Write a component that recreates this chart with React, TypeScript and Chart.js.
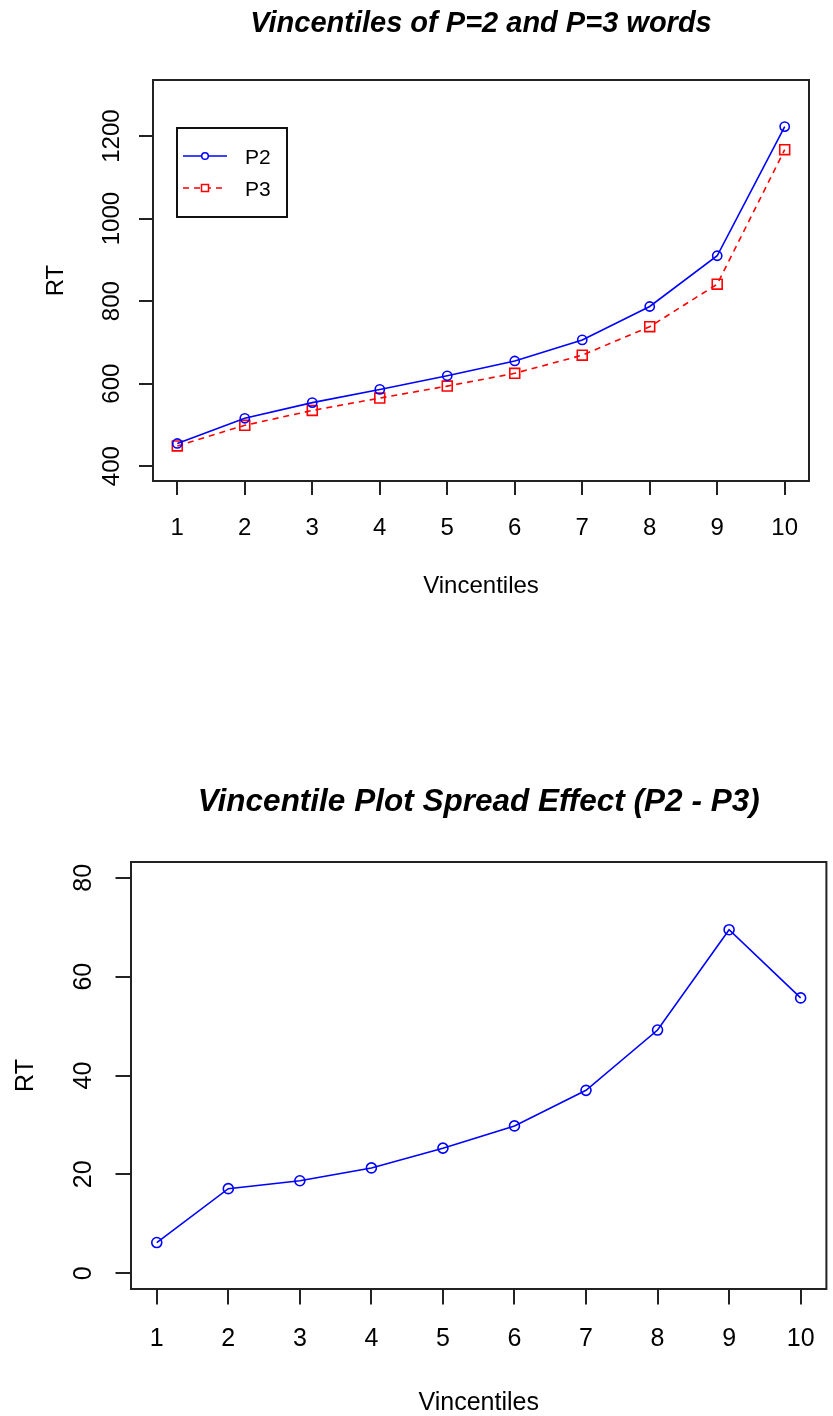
import React, { useEffect, useRef } from "react";
import { Chart, registerables } from "chart.js";

Chart.register(...registerables);

// ---- data ----
const vincentiles = [1, 2, 3, 4, 5, 6, 7, 8, 9, 10];
const p2RT = [455, 516, 554, 586, 619, 655, 706, 787, 910, 1223];
const p3RT = [449, 499, 535, 565, 594, 625, 669, 738, 841, 1167];
const spreadRT = [6.2, 17.1, 18.7, 21.3, 25.3, 29.8, 37.0, 49.2, 69.5, 55.7];
const topYTicks = [400, 600, 800, 1000, 1200];
const bottomYTicks = [0, 20, 40, 60, 80];
const xTicks = vincentiles;
const seriesNames = ["P2", "P3"];
const topTitle = "Vincentiles of P=2 and P=3 words";
const bottomTitle = "Vincentile Plot Spread Effect (P2 - P3)";
const xTitle = "Vincentiles";
const yTitle = "RT";

const FONT = '"Liberation Sans", Arial, sans-serif';
const BLUE = "#0000ff";
const RED = "#ff0000";

type Spec = {
  width: number;
  height: number;
  area: { left: number; top: number; right: number; bottom: number };
  xRange: [number, number];
  yRange: [number, number];
  yTicks: number[];
  tickLen: number;
  font: number;
  titleFont: number;
  title: string;
  titleBaseline: number;
  xLabelBaseline: number;
  xTitleBaseline: number;
  yLabelBaseline: number;
  yTitleBaseline: number;
  datasets: any[];
  legend: boolean;
};

function toPoints(values: number[]) {
  return vincentiles.map((v, i) => ({ x: v, y: values[i] }));
}

function drawLegend(ctx: CanvasRenderingContext2D) {
  ctx.save();
  ctx.strokeStyle = "#111";
  ctx.lineWidth = 2;
  ctx.strokeRect(177, 128, 110, 89);
  const rows = [
    { name: seriesNames[0], color: BLUE, dash: [] as number[], y: 156, shape: "circle" },
    { name: seriesNames[1], color: RED, dash: [6, 5], y: 188, shape: "rect" },
  ];
  rows.forEach((r) => {
    ctx.strokeStyle = r.color;
    ctx.lineWidth = 1.5;
    ctx.setLineDash(r.dash);
    ctx.beginPath();
    ctx.moveTo(183, r.y);
    ctx.lineTo(227, r.y);
    ctx.stroke();
    ctx.setLineDash([]);
    ctx.fillStyle = "#fff";
    ctx.beginPath();
    if (r.shape === "circle") {
      ctx.arc(205, r.y, 3.3, 0, Math.PI * 2);
    } else {
      ctx.rect(201.5, r.y - 3.5, 7, 7);
    }
    ctx.fill();
    ctx.stroke();
    ctx.fillStyle = "#000";
    ctx.font = `21px ${FONT}`;
    ctx.textAlign = "left";
    ctx.textBaseline = "alphabetic";
    ctx.fillText(r.name, 245, r.y + 7.5);
  });
  ctx.restore();
}

function makeConfig(spec: Spec): any {
  const { area } = spec;
  const textPlugin = {
    id: "rtext",
    afterDraw(chart: any) {
      const ctx: CanvasRenderingContext2D = chart.ctx;
      const { left, top, right, bottom } = chart.chartArea;
      const xs = chart.scales.x;
      const ys = chart.scales.y;
      ctx.save();
      ctx.setLineDash([]);
      ctx.strokeStyle = "#222";
      ctx.lineWidth = 2;
      ctx.strokeRect(left, top, right - left, bottom - top);
      ctx.fillStyle = "#000";
      ctx.textAlign = "center";
      ctx.textBaseline = "alphabetic";
      ctx.font = `italic bold ${spec.titleFont}px ${FONT}`;
      ctx.fillText(spec.title, (left + right) / 2, spec.titleBaseline);
      ctx.font = `${spec.font}px ${FONT}`;
      xTicks.forEach((v) => {
        ctx.fillText(String(v), xs.getPixelForValue(v), spec.xLabelBaseline);
      });
      ctx.fillText(xTitle, (left + right) / 2, spec.xTitleBaseline);
      spec.yTicks.forEach((v) => {
        ctx.save();
        ctx.translate(spec.yLabelBaseline, ys.getPixelForValue(v));
        ctx.rotate(-Math.PI / 2);
        ctx.fillText(String(v), 0, 0);
        ctx.restore();
      });
      ctx.save();
      ctx.translate(spec.yTitleBaseline, (top + bottom) / 2);
      ctx.rotate(-Math.PI / 2);
      ctx.fillText(yTitle, 0, 0);
      ctx.restore();
      ctx.restore();
      if (spec.legend) drawLegend(ctx);
    },
  };

  const gridOpts = {
    display: true,
    drawOnChartArea: false,
    drawTicks: true,
    tickLength: spec.tickLen,
    color: "#222",
    lineWidth: 2,
  };

  return {
    type: "line",
    data: { datasets: spec.datasets },
    options: {
      animation: false,
      responsive: false,
      maintainAspectRatio: false,
      events: [],
      layout: {
        padding: { left: 0, top: area.top, right: spec.width - area.right, bottom: 0 },
      },
      plugins: {
        legend: { display: false },
        tooltip: { enabled: false },
        title: { display: false },
      },
      scales: {
        x: {
          type: "linear",
          min: spec.xRange[0],
          max: spec.xRange[1],
          afterBuildTicks: (s: any) => {
            s.ticks = xTicks.map((v) => ({ value: v }));
          },
          afterFit: (s: any) => {
            s.height = spec.height - area.bottom;
          },
          ticks: { display: false },
          grid: gridOpts,
          border: { display: false },
        },
        y: {
          type: "linear",
          min: spec.yRange[0],
          max: spec.yRange[1],
          afterBuildTicks: (s: any) => {
            s.ticks = spec.yTicks.map((v) => ({ value: v }));
          },
          afterFit: (s: any) => {
            s.width = area.left;
          },
          ticks: { display: false },
          grid: gridOpts,
          border: { display: false },
        },
      },
    },
    plugins: [textPlugin],
  };
}

const topSpec: Spec = {
  width: 833,
  height: 700,
  area: { left: 153, top: 80, right: 809, bottom: 481 },
  xRange: [0.64, 10.36],
  yRange: [364, 1336],
  yTicks: topYTicks,
  tickLen: 14,
  font: 24,
  titleFont: 29,
  title: topTitle,
  titleBaseline: 32,
  xLabelBaseline: 535,
  xTitleBaseline: 593,
  yLabelBaseline: 119,
  yTitleBaseline: 63,
  legend: true,
  datasets: [
    {
      label: seriesNames[0],
      data: toPoints(p2RT),
      borderColor: BLUE,
      borderWidth: 1.6,
      pointStyle: "circle",
      pointRadius: 4.6,
      pointBorderColor: BLUE,
      pointBackgroundColor: "rgba(0,0,0,0)",
      pointBorderWidth: 1.6,
      tension: 0,
      fill: false,
    },
    {
      label: seriesNames[1],
      data: toPoints(p3RT),
      borderColor: RED,
      borderWidth: 1.6,
      borderDash: [6, 5],
      pointStyle: "rect",
      pointRadius: 7,
      pointBorderColor: RED,
      pointBackgroundColor: "rgba(0,0,0,0)",
      pointBorderWidth: 1.6,
      tension: 0,
      fill: false,
    },
  ],
};

const bottomSpec: Spec = {
  width: 833,
  height: 716,
  area: { left: 131, top: 162, right: 830, bottom: 589 },
  xRange: [0.64, 10.36],
  yRange: [-3.2, 83.2],
  yTicks: bottomYTicks,
  tickLen: 15.5,
  font: 25,
  titleFont: 31.5,
  title: bottomTitle,
  titleBaseline: 111,
  xLabelBaseline: 646,
  xTitleBaseline: 710,
  yLabelBaseline: 91,
  yTitleBaseline: 33,
  legend: false,
  datasets: [
    {
      label: "P2 - P3",
      data: toPoints(spreadRT),
      borderColor: BLUE,
      borderWidth: 1.6,
      pointStyle: "circle",
      pointRadius: 5,
      pointBorderColor: BLUE,
      pointBackgroundColor: "rgba(0,0,0,0)",
      pointBorderWidth: 1.6,
      tension: 0,
      fill: false,
    },
  ],
};

function RChart({ spec, top }: { spec: Spec; top: number }) {
  const ref = useRef<HTMLCanvasElement | null>(null);
  useEffect(() => {
    if (!ref.current) return;
    const chart = new Chart(ref.current, makeConfig(spec));
    return () => chart.destroy();
  }, [spec]);
  return (
    <canvas
      ref={ref}
      width={spec.width}
      height={spec.height}
      style={{
        position: "absolute",
        left: 0,
        top,
        width: spec.width,
        height: spec.height,
        display: "block",
      }}
    />
  );
}

export default function App() {
  return (
    <div
      style={{
        position: "absolute",
        left: 0,
        top: 0,
        width: 833,
        height: 1416,
        background: "#fff",
        overflow: "hidden",
      }}
    >
      <RChart spec={topSpec} top={0} />
      <RChart spec={bottomSpec} top={700} />
    </div>
  );
}
